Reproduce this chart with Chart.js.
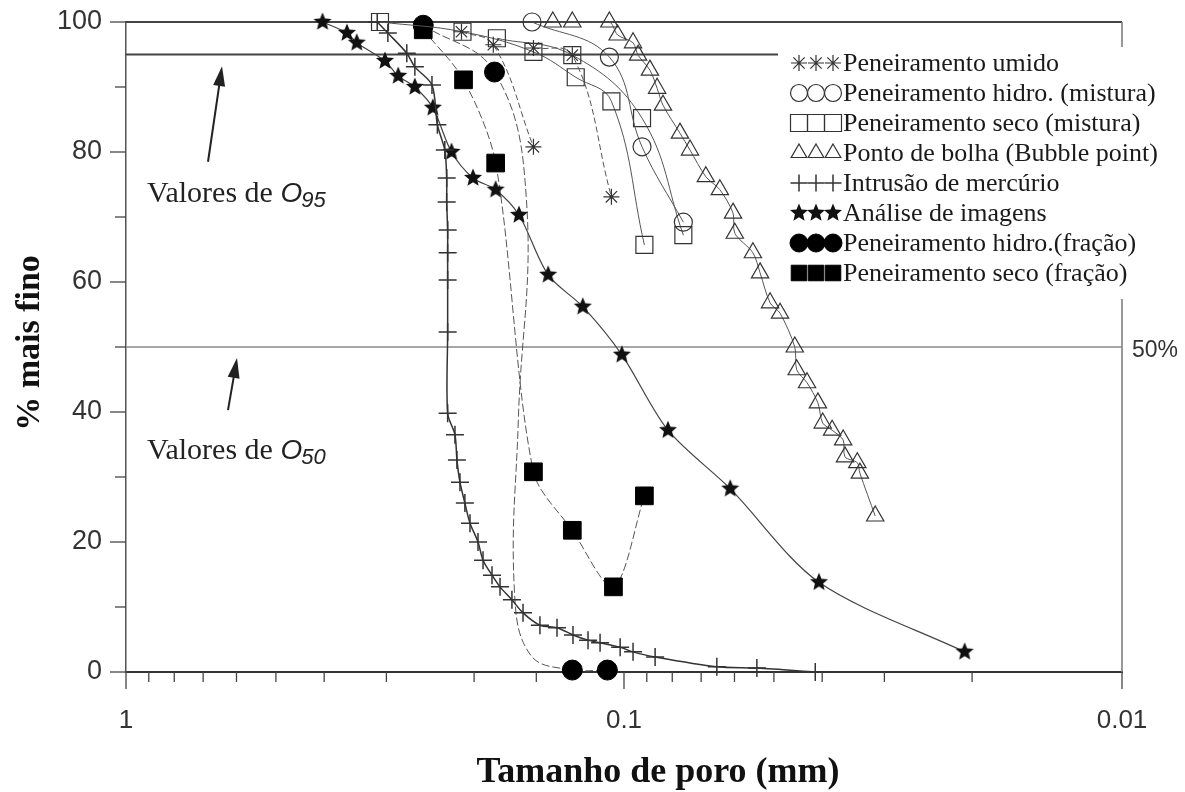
<!doctype html>
<html>
<head>
<meta charset="utf-8">
<title>Tamanho de poro</title>
<script src="https://cdn.jsdelivr.net/npm/chart.js@4.4.1/dist/chart.umd.min.js"></script>
<style>
    html, body { margin: 0; padding: 0; background: #fff; }
</style>
</head>
<body>
<canvas id="myChart" width="1185" height="792"></canvas>

<script>
    // eixo x: tamanho de poro (mm), escala log invertida
    var xTickValues = [1, 0.1, 0.01];
    var xTickLabels = ['1', '0.1', '0.01'];
    // eixo y: % mais fino
    var yTickValues = [0, 20, 40, 60, 80, 100];
    var refLineValues = [95, 50];

    var legendLabels = [
        'Peneiramento umido',
        'Peneiramento hidro. (mistura)',
        'Peneiramento seco (mistura)',
        'Ponto de bolha (Bubble point)',
        'Intrusão de mercúrio',
        'Análise de imagens',
        'Peneiramento hidro.(fração)',
        'Peneiramento seco (fração)'
    ];

    // Peneiramento umido (duas curvas)
    var umidoA_x = [0.212, 0.183, 0.152];
    var umidoA_y = [98.5, 96.5, 80.8];
    var umidoB_x = [0.152, 0.127, 0.106];
    var umidoB_y = [96.0, 94.9, 73.1];

    // Peneiramento hidro. (mistura)
    var hidroMis_x = [0.153, 0.107, 0.092, 0.076];
    var hidroMis_y = [100, 94.6, 80.8, 69.2];

    // Peneiramento seco (mistura) (duas curvas)
    var secoMisA_x = [0.309, 0.211, 0.152, 0.125, 0.106, 0.091];
    var secoMisA_y = [100, 98.5, 95.4, 91.5, 87.8, 65.7];
    var secoMisB_x = [0.180, 0.127, 0.092, 0.076];
    var secoMisB_y = [97.5, 94.9, 85.2, 67.2];

    // Ponto de bolha
    var bolha_x = [0.139, 0.127, 0.107, 0.103, 0.0959, 0.0937, 0.0887, 0.0858, 0.0835, 0.0772,
                   0.0737, 0.0685, 0.0642, 0.0604, 0.0599, 0.0551, 0.0533, 0.0509, 0.0486, 0.0454,
                   0.0450, 0.0429, 0.0408, 0.0399, 0.0382, 0.0363, 0.0360, 0.0340, 0.0336, 0.0313];
    var bolha_y = [100, 100, 100, 98.0, 96.8, 94.9, 92.6, 89.8, 87.2, 82.9,
                   80.3, 76.2, 74.2, 70.6, 67.5, 64.5, 61.4, 56.8, 55.2, 50.0,
                   46.5, 44.5, 41.4, 38.3, 37.2, 35.7, 33.1, 32.2, 30.6, 24.0];

    // Intrusão de mercúrio
    var mercurio_x = [0.313, 0.298, 0.273, 0.263, 0.243, 0.237, 0.229, 0.227, 0.227, 0.226,
                      0.226, 0.226, 0.226, 0.226, 0.2185, 0.2165, 0.2135, 0.2087, 0.2038, 0.1964,
                      0.1919, 0.1841, 0.1774, 0.1679, 0.1595, 0.1475, 0.1363, 0.1266, 0.1181, 0.1117,
                      0.1018, 0.0959, 0.0866, 0.0651, 0.0541, 0.0413];
    var mercurio_y = [100, 98.3, 95.2, 93.1, 90.3, 84.2, 80.3, 76.0, 72.3, 68.0,
                      64.5, 60.3, 52.3, 39.8, 36.5, 32.6, 29.2, 26.0, 22.9, 20.0,
                      17.2, 14.9, 13.1, 11.1, 9.1, 7.2, 6.8, 5.7, 4.9, 4.5,
                      3.8, 3.1, 2.3, 0.8, 0.6, 0];

    // Análise de imagens
    var imagens_x = [0.403, 0.360, 0.344, 0.302, 0.284, 0.263, 0.242, 0.222, 0.201, 0.181,
                     0.1625, 0.142, 0.121, 0.101, 0.0816, 0.0612, 0.0406, 0.0207];
    var imagens_y = [100, 98.3, 96.8, 94.0, 91.7, 90.0, 86.8, 80.0, 76.0, 74.2,
                     70.3, 61.1, 56.2, 48.8, 37.2, 28.2, 13.8, 3.1];

    // Peneiramento hidro.(fração) - pontos da curva, marcador só onde há símbolo
    var hidroFra_x = [0.253, 0.182, 0.157, 0.163, 0.166, 0.154, 0.127, 0.108];
    var hidroFra_y = [99.5, 92.3, 72.6, 38.8, 12.6, 2.6, 0.3, 0.3];
    var hidroFra_mark = [1, 1, 0, 0, 0, 0, 1, 1];

    // Peneiramento seco (fração)
    var secoFra_x = [0.253, 0.210, 0.181, 0.152, 0.127, 0.105, 0.091];
    var secoFra_y = [98.8, 91.1, 78.3, 30.8, 21.8, 13.1, 27.1];

    function pts(xs, ys) {
        return xs.map(function (x, i) { return {x: x, y: ys[i]}; });
    }

    function makeStar(size, color) {
        var c = document.createElement('canvas');
        c.width = size; c.height = size;
        var g = c.getContext('2d');
        var cx = size / 2, r = size / 2 - 0.5, ri = r * 0.45;
        g.beginPath();
        for (var i = 0; i < 10; i++) {
            var ang = -Math.PI / 2 + i * Math.PI / 5;
            var rr = (i % 2) ? ri : r;
            g.lineTo(cx + rr * Math.cos(ang), cx + rr * Math.sin(ang));
        }
        g.closePath();
        g.fillStyle = color;
        g.fill();
        return c;
    }
    var starImg = makeStar(20, '#111');

    var sUmido = {pointStyle: 'star', pointRadius: 8, pointBorderWidth: 1.2, pointBorderColor: '#333',
        pointBackgroundColor: 'rgba(0,0,0,0)', borderColor: '#555', borderWidth: 1, borderDash: [6, 3], tension: 0.4};
    var sHidroMis = {pointStyle: 'circle', pointRadius: 9, pointBorderWidth: 1.2, pointBorderColor: '#333',
        pointBackgroundColor: 'rgba(0,0,0,0)', borderColor: '#555', borderWidth: 1, tension: 0.4};
    var sSecoMis = {pointStyle: 'rect', pointRadius: 12, pointBorderWidth: 1.2, pointBorderColor: '#333',
        pointBackgroundColor: 'rgba(0,0,0,0)', borderColor: '#555', borderWidth: 1, tension: 0.4};
    var sBolha = {pointStyle: 'triangle', pointRadius: 10, pointBorderWidth: 1.2, pointBorderColor: '#333',
        pointBackgroundColor: 'rgba(0,0,0,0)', borderColor: '#555', borderWidth: 1, tension: 0.3};
    var sMercurio = {pointStyle: 'cross', pointRadius: 9, pointBorderWidth: 1.5, pointBorderColor: '#333',
        pointBackgroundColor: 'rgba(0,0,0,0)', borderColor: '#333', borderWidth: 1.5, tension: 0.3};
    var sImagens = {pointStyle: starImg, pointRadius: 10, pointBorderWidth: 0, pointBorderColor: '#111',
        pointBackgroundColor: '#111', borderColor: '#444', borderWidth: 1.2, tension: 0.3};
    var sHidroFra = {pointStyle: 'circle', pointBorderWidth: 1, pointBorderColor: '#000',
        pointBackgroundColor: '#000', borderColor: '#555', borderWidth: 1, borderDash: [8, 3], tension: 0.4};
    var sSecoFra = {pointStyle: 'rect', pointRadius: 12.5, pointBorderWidth: 1, pointBorderColor: '#000',
        pointBackgroundColor: '#000', borderColor: '#555', borderWidth: 1, borderDash: [8, 3], tension: 0.3};

    function ds(label, data, style) {
        var d = {label: label, data: data, showLine: true, fill: false, clip: false};
        for (var k in style) d[k] = style[k];
        return d;
    }

    var datasets = [
        ds(legendLabels[0], pts(umidoA_x, umidoA_y), sUmido),
        ds(legendLabels[0], pts(umidoB_x, umidoB_y), sUmido),
        ds(legendLabels[1], pts(hidroMis_x, hidroMis_y), sHidroMis),
        ds(legendLabels[2], pts(secoMisA_x, secoMisA_y), sSecoMis),
        ds(legendLabels[2], pts(secoMisB_x, secoMisB_y), sSecoMis),
        ds(legendLabels[3], pts(bolha_x, bolha_y), sBolha),
        ds(legendLabels[4], pts(mercurio_x, mercurio_y), sMercurio),
        ds(legendLabels[5], pts(imagens_x, imagens_y), sImagens),
        ds(legendLabels[6], pts(hidroFra_x, hidroFra_y), sHidroFra),
        ds(legendLabels[7], pts(secoFra_x, secoFra_y), sSecoFra)
    ];
    datasets[8].pointRadius = hidroFra_mark.map(function (m) { return m ? 10 : 0; });

    // anotações (posições em unidades dos eixos)
    var notes = [
        {text: 'Valores de ', sub: '95', x: 0.907, y: 72.3, tipX: 0.6415, tipY: 93.2, tailX: 0.6844, tailY: 78.5},
        {text: 'Valores de ', sub: '50', x: 0.907, y: 32.8, tipX: 0.5985, tipY: 48.3, tailX: 0.6240, tailY: 40.3}
    ];

    function isMajor(v) {
        var l = Math.log10(v);
        return Math.abs(l - Math.round(l)) < 1e-6;
    }

    function drawMarker(ctx, style, x, y, r) {
        ctx.save();
        ctx.fillStyle = style.pointBackgroundColor;
        ctx.strokeStyle = style.pointBorderColor;
        ctx.lineWidth = style.pointBorderWidth || 1;
        Chart.helpers.drawPoint(ctx, {pointStyle: style.pointStyle, radius: r, rotation: 0,
            borderWidth: style.pointBorderWidth}, x, y);
        ctx.restore();
    }

    var decor = {
        id: 'decor',
        beforeDatasetsDraw: function (chart) {
            var ctx = chart.ctx, a = chart.chartArea, xs = chart.scales.x, ys = chart.scales.y;
            ctx.save();
            // moldura superior e direita
            ctx.strokeStyle = '#444';
            ctx.lineWidth = 2;
            ctx.beginPath(); ctx.moveTo(a.left, a.top); ctx.lineTo(a.right, a.top); ctx.stroke();
            ctx.strokeStyle = '#777';
            ctx.lineWidth = 1.5;
            ctx.beginPath(); ctx.moveTo(a.right, a.top); ctx.lineTo(a.right, a.bottom); ctx.stroke();
            // linhas de 95% e 50%
            refLineValues.forEach(function (v, i) {
                var py = ys.getPixelForValue(v);
                ctx.strokeStyle = i === 0 ? '#444' : '#8a8a8a';
                ctx.lineWidth = i === 0 ? 2 : 1.3;
                ctx.beginPath(); ctx.moveTo(a.left, py); ctx.lineTo(a.right, py); ctx.stroke();
            });
            // marcas dos eixos
            ctx.strokeStyle = '#444';
            ctx.lineWidth = 1.3;
            ys.ticks.forEach(function (t) {
                var py = ys.getPixelForValue(t.value);
                var len = yTickValues.indexOf(t.value) >= 0 ? 16 : 11;
                ctx.beginPath(); ctx.moveTo(a.left - len, py); ctx.lineTo(a.left, py); ctx.stroke();
            });
            xs.ticks.forEach(function (t) {
                var px = xs.getPixelForValue(t.value);
                var len = isMajor(t.value) ? 17 : 10;
                ctx.beginPath(); ctx.moveTo(px, a.bottom); ctx.lineTo(px, a.bottom + len); ctx.stroke();
            });
            ctx.restore();
        },
        afterDatasetsDraw: function (chart) {
            var ctx = chart.ctx, a = chart.chartArea, xs = chart.scales.x, ys = chart.scales.y;
            ctx.save();

            // legenda
            ctx.fillStyle = '#fff';
            ctx.fillRect(778, 47, 395, 252);
            ctx.font = '26px "Liberation Serif"';
            ctx.textBaseline = 'middle';
            ctx.textAlign = 'left';
            legendLabels.forEach(function (lab, i) {
                var d = chart.data.datasets.filter(function (s) { return s.label === lab; })[0];
                var yy = 63 + 30 * i;
                var r = {0: 8, 1: 8.5, 2: 12, 3: 9, 4: 8.5, 5: 9, 6: 9, 7: 11}[i];
                [799, 816, 833].forEach(function (xx) { drawMarker(ctx, d, xx, yy, r); });
                ctx.fillStyle = '#1a1a1a';
                ctx.fillText(lab, 843, yy + 1);
            });

            // anotações com setas
            ctx.fillStyle = '#222';
            ctx.strokeStyle = '#222';
            notes.forEach(function (n) {
                var tx = xs.getPixelForValue(n.x), ty = ys.getPixelForValue(n.y);
                ctx.textBaseline = 'alphabetic';
                ctx.font = '30px "Liberation Serif"';
                ctx.fillText(n.text, tx, ty);
                var w = ctx.measureText(n.text).width;
                ctx.font = 'italic 28px "Liberation Sans"';
                ctx.fillText('O', tx + w, ty);
                var w2 = ctx.measureText('O').width;
                ctx.font = 'italic 22px "Liberation Sans"';
                ctx.fillText(n.sub, tx + w + w2 - 1, ty + 5);

                var x1 = xs.getPixelForValue(n.tailX), y1 = ys.getPixelForValue(n.tailY);
                var x2 = xs.getPixelForValue(n.tipX), y2 = ys.getPixelForValue(n.tipY);
                var ang = Math.atan2(y2 - y1, x2 - x1);
                ctx.lineWidth = 2;
                ctx.beginPath();
                ctx.moveTo(x1, y1);
                ctx.lineTo(x2 - 14 * Math.cos(ang), y2 - 14 * Math.sin(ang));
                ctx.stroke();
                ctx.beginPath();
                ctx.moveTo(x2, y2);
                ctx.lineTo(x2 - 20 * Math.cos(ang) + 6 * Math.sin(ang), y2 - 20 * Math.sin(ang) - 6 * Math.cos(ang));
                ctx.lineTo(x2 - 20 * Math.cos(ang) - 6 * Math.sin(ang), y2 - 20 * Math.sin(ang) + 6 * Math.cos(ang));
                ctx.closePath();
                ctx.fill();
            });

            // rótulo 50%
            ctx.font = '23px "Liberation Sans"';
            ctx.fillStyle = '#333';
            ctx.textBaseline = 'middle';
            ctx.fillText('50%', a.right + 10, ys.getPixelForValue(refLineValues[1]) + 4);

            // títulos dos eixos
            ctx.fillStyle = '#111';
            ctx.textAlign = 'center';
            ctx.font = 'bold 36px "Liberation Serif"';
            ctx.fillText('Tamanho de poro (mm)', 658, 773);
            ctx.translate(30, 343);
            ctx.rotate(-Math.PI / 2);
            ctx.font = 'bold 34px "Liberation Serif"';
            ctx.fillText('% mais fino', 0, 0);
            ctx.restore();
        }
    };

    var ctx = document.getElementById('myChart').getContext('2d');
    var myChart = new Chart(ctx, {
        type: 'scatter',
        data: {datasets: datasets},
        options: {
            responsive: false,
            animation: false,
            layout: {padding: {left: 9, right: 63, top: 22, bottom: 0}},
            plugins: {legend: {display: false}, tooltip: {enabled: false}},
            scales: {
                x: {
                    type: 'logarithmic',
                    reverse: true,
                    min: 0.01,
                    max: 1,
                    // marcas desenhadas pelo plugin; aqui só reservam o espaço
                    grid: {display: true, drawOnChartArea: false, drawTicks: true, tickLength: 17,
                           tickColor: 'rgba(0,0,0,0)'},
                    border: {display: true, color: '#333', width: 2},
                    ticks: {
                        autoSkip: false,
                        maxRotation: 0,
                        padding: 16,
                        color: '#333',
                        font: {family: 'Liberation Sans', size: 26},
                        callback: function (value) {
                            for (var i = 0; i < xTickValues.length; i++) {
                                if (Math.abs(value - xTickValues[i]) / xTickValues[i] < 1e-6) return xTickLabels[i];
                            }
                            return '';
                        }
                    },
                    afterFit: function (s) { s.height = 120; }
                },
                y: {
                    min: 0,
                    max: 100,
                    grid: {display: true, drawOnChartArea: false, drawTicks: true, tickLength: 20,
                           tickColor: 'rgba(0,0,0,0)'},
                    border: {display: true, color: '#555', width: 1.5},
                    ticks: {
                        stepSize: 10,
                        padding: 4,
                        color: '#333',
                        font: {family: 'Liberation Sans', size: 27},
                        callback: function (value) {
                            return yTickValues.indexOf(value) >= 0 ? String(value) : '';
                        }
                    },
                    afterFit: function (s) { s.width = 117; }
                }
            }
        },
        plugins: [decor]
    });
</script>
</body>
</html>
